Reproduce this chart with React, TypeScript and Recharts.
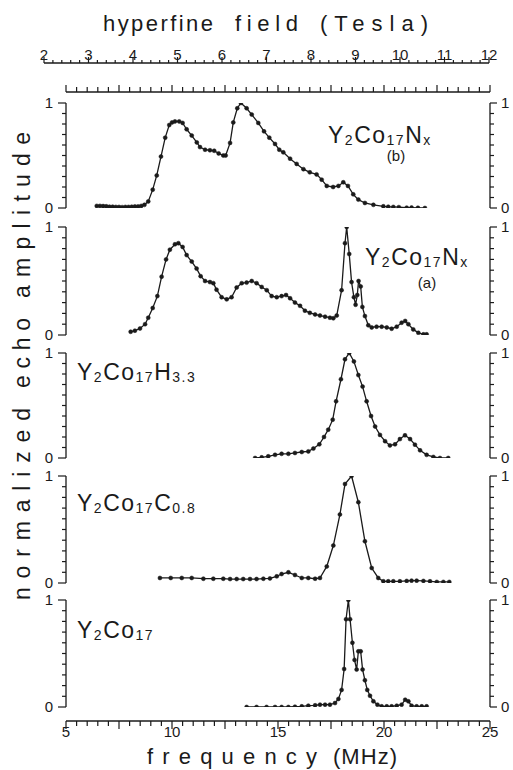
import { LineChart, Line, XAxis, YAxis } from "recharts";

const INK = "#1a1a1a";
const FONT = '"Liberation Sans", Arial, sans-serif';

// Y2Co17Nx (b)
const nxbFreq = [6.45, 6.6, 6.75, 6.9, 7.05, 7.2, 7.35, 7.5, 7.65, 7.8, 7.95, 8.1, 8.25, 8.4, 8.55, 8.7, 8.88, 9.09, 9.28, 9.48, 9.68, 9.87, 10.0, 10.14, 10.34, 10.5, 10.69, 10.93, 11.17, 11.32, 11.56, 11.79, 11.99, 12.2, 12.42, 12.53, 12.74, 12.89, 13.08, 13.25, 13.52, 13.76, 14.07, 14.34, 14.59, 14.86, 15.06, 15.25, 15.57, 15.88, 16.2, 16.5, 16.82, 17.06, 17.3, 17.6, 17.85, 18.08, 18.3, 18.55, 18.79, 19.1, 19.5, 19.97, 20.2, 20.44, 20.7, 21.07, 21.3, 21.6, 21.93];
const nxbAmp = [0.02, 0.02, 0.018, 0.016, 0.012, 0.012, 0.01, 0.01, 0.008, 0.01, 0.01, 0.012, 0.015, 0.015, 0.02, 0.03, 0.063, 0.175, 0.31, 0.49, 0.67, 0.79, 0.815, 0.825, 0.825, 0.81, 0.75, 0.69, 0.625, 0.58, 0.555, 0.55, 0.545, 0.52, 0.5, 0.5, 0.62, 0.815, 0.95, 1.0, 0.95, 0.89, 0.81, 0.73, 0.67, 0.61, 0.555, 0.53, 0.47, 0.42, 0.37, 0.34, 0.32, 0.27, 0.21, 0.2, 0.21, 0.245, 0.21, 0.13, 0.08, 0.048, 0.03, 0.016, 0.012, 0.01, 0.008, 0.003, 0.004, 0.002, 0.0];

// Y2Co17Nx (a)
const nxaFreq = [8.05, 8.25, 8.49, 8.73, 8.88, 9.09, 9.31, 9.51, 9.72, 9.9, 10.14, 10.3, 10.5, 10.69, 10.93, 11.16, 11.35, 11.56, 11.79, 11.95, 12.1, 12.34, 12.58, 12.81, 13.05, 13.29, 13.52, 13.76, 13.99, 14.23, 14.47, 14.7, 14.94, 15.17, 15.38, 15.57, 15.8, 16.04, 16.27, 16.5, 16.75, 16.98, 17.22, 17.45, 17.61, 17.77, 18.0, 18.16, 18.24, 18.36, 18.47, 18.58, 18.66, 18.74, 18.8, 18.9, 18.98, 19.1, 19.26, 19.42, 19.65, 19.89, 20.13, 20.36, 20.6, 20.83, 21.0, 21.15, 21.38, 21.62, 21.86, 22.01];
const nxaAmp = [0.03, 0.04, 0.06, 0.1, 0.16, 0.25, 0.36, 0.54, 0.7, 0.79, 0.84, 0.85, 0.815, 0.74, 0.68, 0.615, 0.545, 0.5, 0.49, 0.48, 0.42, 0.35, 0.33, 0.35, 0.44, 0.48, 0.485, 0.5, 0.48, 0.445, 0.415, 0.36, 0.35, 0.36, 0.37, 0.34, 0.3, 0.27, 0.225, 0.205, 0.19, 0.18, 0.17, 0.16, 0.155, 0.18, 0.415, 0.85, 1.0, 0.75, 0.49, 0.35, 0.28, 0.37, 0.5, 0.45, 0.26, 0.175, 0.09, 0.07, 0.077, 0.077, 0.07, 0.058, 0.077, 0.114, 0.13, 0.1, 0.052, 0.02, 0.006, 0.006];

// Y2Co17H3.3
const hFreq = [13.92, 14.23, 14.54, 14.86, 15.17, 15.49, 15.8, 16.12, 16.43, 16.67, 16.95, 17.17, 17.37, 17.58, 17.74, 17.97, 18.16, 18.36, 18.58, 18.79, 18.99, 19.18, 19.39, 19.58, 19.81, 20.05, 20.28, 20.52, 20.75, 20.99, 21.23, 21.46, 21.7, 22.01, 22.33, 22.64, 23.03];
const hAmp = [0, 0.006, 0.016, 0.03, 0.04, 0.04, 0.048, 0.057, 0.063, 0.09, 0.13, 0.2, 0.27, 0.365, 0.54, 0.75, 0.94, 1.0, 0.92, 0.79, 0.68, 0.54, 0.4, 0.3, 0.22, 0.16, 0.12, 0.13, 0.18, 0.216, 0.18, 0.127, 0.073, 0.03, 0.01, 0, 0];

// Y2Co17C0.8
const cFreq = [9.43, 9.94, 10.46, 10.93, 11.48, 11.95, 12.42, 12.74, 13.05, 13.36, 13.68, 13.99, 14.31, 14.62, 14.94, 15.17, 15.49, 15.8, 16.12, 16.43, 16.75, 16.98, 17.3, 17.61, 17.92, 18.16, 18.47, 18.79, 19.1, 19.42, 19.73, 19.97, 20.2, 20.44, 20.75, 21.07, 21.3, 21.54, 21.86, 22.17, 22.49, 22.8, 23.08];
const cAmp = [0.047, 0.047, 0.047, 0.047, 0.04, 0.04, 0.04, 0.037, 0.037, 0.037, 0.037, 0.037, 0.04, 0.043, 0.062, 0.084, 0.1, 0.075, 0.047, 0.047, 0.04, 0.047, 0.155, 0.35, 0.64, 0.925, 1.0, 0.755, 0.39, 0.14, 0.047, 0.016, 0.016, 0.016, 0.016, 0.019, 0.022, 0.022, 0.019, 0.016, 0.01, 0.01, 0.01];

// Y2Co17
const yFreq = [13.52, 13.99, 14.46, 14.86, 15.17, 15.49, 15.8, 16.12, 16.43, 16.75, 16.98, 17.22, 17.45, 17.69, 17.85, 18.0, 18.12, 18.21, 18.32, 18.4, 18.51, 18.61, 18.71, 18.79, 18.9, 18.99, 19.1, 19.21, 19.34, 19.5, 19.69, 19.89, 20.13, 20.36, 20.6, 20.83, 21.0, 21.15, 21.3, 21.54, 21.78, 22.01];
const yAmp = [0, 0, 0, 0, 0, 0, 0.003, 0.006, 0.012, 0.016, 0.022, 0.022, 0.022, 0.037, 0.075, 0.16, 0.355, 0.82, 1.0, 0.82, 0.6, 0.44, 0.35, 0.52, 0.52, 0.35, 0.25, 0.16, 0.105, 0.053, 0.022, 0.006, 0.006, 0.006, 0.012, 0.022, 0.068, 0.053, 0.012, 0.006, 0.006, 0.006];

const ampTicks = [0, 0.1, 0.2, 0.3, 0.4, 0.5, 0.6, 0.7, 0.8, 0.9, 1];
const freqLabels = [5, 10, 15, 20, 25];
const teslaLabels = [2, 3, 4, 5, 6, 7, 8, 9, 10, 11, 12];
const freqMinor = Array.from({ length: 41 }, (_, i) => 5 + i * 0.5);
const teslaMinor = Array.from({ length: 51 }, (_, i) => Math.round((2 + i * 0.2) * 10) / 10);

// formula labels: [text, subscript?]
const nxParts: [string, boolean][] = [["Y", false], ["2", true], ["Co", false], ["17", true], ["N", false], ["x", true]];
const hParts: [string, boolean][] = [["Y", false], ["2", true], ["Co", false], ["17", true], ["H", false], ["3.3", true]];
const cParts: [string, boolean][] = [["Y", false], ["2", true], ["Co", false], ["17", true], ["C", false], ["0.8", true]];
const pureParts: [string, boolean][] = [["Y", false], ["2", true], ["Co", false], ["17", true]];

// axis titles, word by word: [word, from, to]
const topTitle: [string, number, number][] = [["hyperfine", 103, 213], ["field", 235, 298], ["(Tesla)", 320, 428]];
const bottomTitle: [string, number, number][] = [["frequency", 147, 317], ["(MHz)", 333, 397]];
const sideTitle: [string, number, number][] = [["normalized", 600, 408], ["echo", 388, 318], ["amplitude", 298, 132]];

const zip = (f: number[], a: number[]) => f.map((v, i) => ({ f: v, amp: a[i] }));

const panels = [
  { key: "b", data: zip(nxbFreq, nxbAmp), top: 103, bottom: 208 },
  { key: "a", data: zip(nxaFreq, nxaAmp), top: 227, bottom: 335 },
  { key: "h", data: zip(hFreq, hAmp), top: 353, bottom: 458 },
  { key: "c", data: zip(cFreq, cAmp), top: 476, bottom: 583 },
  { key: "y", data: zip(yFreq, yAmp), top: 600, bottom: 707 },
];

const PAD = 12;
const W = 513;

const isEnd = (v: number) => v === 0 || v === 1;

const LeftTick = (p: any) => {
  const { x, y, payload } = p;
  const big = isEnd(payload.value);
  return (
    <g>
      <line x1={x} x2={x - (big ? 8 : 4)} y1={y} y2={y} stroke={INK} strokeWidth={1.2} />
      {big && (
        <text x={x - 13} y={y + 5} textAnchor="end" fontSize={15} fontFamily={FONT} fill={INK}>
          {payload.value}
        </text>
      )}
    </g>
  );
};

const RightTick = (p: any) => {
  const { x, y, payload } = p;
  const big = isEnd(payload.value);
  return (
    <g>
      <line x1={x} x2={x + (big ? 7 : 4)} y1={y} y2={y} stroke={INK} strokeWidth={1.2} />
      {big && (
        <text x={x + 11} y={y + 5} textAnchor="start" fontSize={15} fontFamily={FONT} fill={INK}>
          {payload.value}
        </text>
      )}
    </g>
  );
};

const BottomTick = (p: any) => {
  const { x, y, payload } = p;
  const v = payload.value;
  const lab = freqLabels.includes(v);
  const big = v % 2.5 === 0;
  return (
    <g>
      <line x1={x} x2={x} y1={y} y2={y + (big ? 8 : 5)} stroke={INK} strokeWidth={1.2} />
      {lab && (
        <text x={x} y={y + 16} textAnchor="middle" fontSize={15} fontFamily={FONT} fill={INK}>
          {v}
        </text>
      )}
    </g>
  );
};

const TopFreqTick = (p: any) => {
  const { x, y, payload } = p;
  const big = payload.value % 2.5 === 0;
  return <line x1={x} x2={x} y1={y} y2={y - (big ? 7 : 5)} stroke={INK} strokeWidth={1.2} />;
};

const TeslaTick = (p: any) => {
  const { x, y, payload } = p;
  const v = payload.value;
  const lab = teslaLabels.includes(v);
  return (
    <g>
      <line x1={x} x2={x} y1={y} y2={y - (lab ? 6 : 3)} stroke={INK} strokeWidth={1.2} />
      {lab && (
        <text x={x} y={y - 3} textAnchor="middle" fontSize={15} fontFamily={FONT} fill={INK}>
          {v}
        </text>
      )}
    </g>
  );
};

const Formula = ({ x, y, parts }: { x: number; y: number; parts: [string, boolean][] }) => {
  let sub = false;
  return (
    <text x={x} y={y} fontSize={23} fontFamily={FONT} fill={INK} letterSpacing={1.5}>
      {parts.map(([t, s], i) => {
        const dy = s === sub ? 0 : s ? 1.5 : -1.5;
        sub = s;
        return (
          <tspan key={i} dy={dy} fontSize={s ? 14 : 23}>
            {t}
          </tspan>
        );
      })}
    </text>
  );
};

const Panel = ({ data, top, bottom }: { data: { f: number; amp: number }[]; top: number; bottom: number }) => (
  <div style={{ position: "absolute", left: 0, top: top - PAD }}>
    <LineChart width={W} height={bottom - top + 2 * PAD} data={data} margin={{ top: PAD, bottom: PAD, left: 36, right: 0 }}>
      <XAxis dataKey="f" type="number" domain={[5, 25]} allowDataOverflow hide />
      <YAxis
        yAxisId="l"
        type="number"
        domain={[0, 1]}
        allowDataOverflow
        ticks={ampTicks}
        interval={0}
        width={30}
        tickSize={0}
        tickMargin={0}
        tickLine={false}
        axisLine={{ stroke: INK, strokeWidth: 1.3 }}
        tick={LeftTick}
      />
      <YAxis
        yAxisId="r"
        orientation="right"
        type="number"
        domain={[0, 1]}
        allowDataOverflow
        ticks={ampTicks}
        interval={0}
        width={23}
        tickSize={0}
        tickMargin={0}
        tickLine={false}
        axisLine={{ stroke: INK, strokeWidth: 1.3 }}
        tick={RightTick}
      />
      <Line
        yAxisId="l"
        dataKey="amp"
        type="linear"
        stroke={INK}
        strokeWidth={1.3}
        dot={{ r: 2, fill: INK, stroke: INK, strokeWidth: 0.5 }}
        activeDot={false}
        isAnimationActive={false}
      />
    </LineChart>
  </div>
);

export default function App() {
  const freqData = freqMinor.map((f) => ({ f }));
  const teslaData = teslaMinor.map((t) => ({ t }));
  return (
    <div style={{ position: "absolute", left: 0, top: 0, width: W, height: 770, background: "#fff", overflow: "hidden" }}>
      {/* hyperfine field axis */}
      <div style={{ position: "absolute", left: 0, top: 63 - 30 }}>
        <LineChart width={W} height={40} data={teslaData} margin={{ top: 0, bottom: 0, left: 44, right: 24 }}>
          <XAxis
            dataKey="t"
            type="number"
            orientation="top"
            domain={[2, 12]}
            allowDataOverflow
            ticks={teslaMinor}
            interval={0}
            height={30}
            tickSize={0}
            tickMargin={0}
            tickLine={false}
            axisLine={{ stroke: INK, strokeWidth: 1.3 }}
            tick={TeslaTick}
          />
        </LineChart>
      </div>
      {/* frequency ticks above top panel */}
      <div style={{ position: "absolute", left: 0, top: 92 - 30 }}>
        <LineChart width={W} height={40} data={freqData} margin={{ top: 0, bottom: 0, left: 66, right: 23 }}>
          <XAxis
            dataKey="f"
            type="number"
            orientation="top"
            domain={[5, 25]}
            allowDataOverflow
            ticks={freqMinor}
            interval={0}
            height={30}
            tickSize={0}
            tickMargin={0}
            tickLine={false}
            axisLine={{ stroke: INK, strokeWidth: 1.3 }}
            tick={TopFreqTick}
          />
        </LineChart>
      </div>
      {panels.map((p) => (
        <Panel key={p.key} data={p.data} top={p.top} bottom={p.bottom} />
      ))}
      {/* frequency axis */}
      <div style={{ position: "absolute", left: 0, top: 716 - 10 }}>
        <LineChart width={W} height={45} data={freqData} margin={{ top: 10, bottom: 0, left: 66, right: 23 }}>
          <XAxis
            dataKey="f"
            type="number"
            domain={[5, 25]}
            allowDataOverflow
            ticks={freqMinor}
            interval={0}
            height={30}
            tickSize={0}
            tickMargin={0}
            tickLine={false}
            axisLine={{ stroke: INK, strokeWidth: 1.3 }}
            tick={BottomTick}
          />
        </LineChart>
      </div>
      <svg width={W} height={770} style={{ position: "absolute", left: 0, top: 0, pointerEvents: "none" }}>
        {topTitle.map(([w, a, b]) => (
          <text key={w} x={a} y={31} fontSize={22} fontFamily={FONT} fill={INK} textLength={b - a} lengthAdjust="spacing">
            {w}
          </text>
        ))}
        {bottomTitle.map(([w, a, b]) => (
          <text key={w} x={a} y={764} fontSize={22} fontFamily={FONT} fill={INK} textLength={b - a} lengthAdjust="spacing">
            {w}
          </text>
        ))}
        {sideTitle.map(([w, a, b]) => (
          <text
            key={w}
            transform={`translate(30,${a}) rotate(-90)`}
            fontSize={23}
            fontFamily={FONT}
            fill={INK}
            textLength={a - b}
            lengthAdjust="spacing"
          >
            {w}
          </text>
        ))}
        <Formula x={328} y={143} parts={nxParts} />
        <text x={396} y={161} textAnchor="middle" fontSize={15} fontFamily={FONT} fill={INK}>(b)</text>
        <Formula x={365} y={265} parts={nxParts} />
        <text x={427} y={288} textAnchor="middle" fontSize={15} fontFamily={FONT} fill={INK}>(a)</text>
        <Formula x={77} y={380} parts={hParts} />
        <Formula x={77} y={511} parts={cParts} />
        <Formula x={77} y={638} parts={pureParts} />
      </svg>
    </div>
  );
}
